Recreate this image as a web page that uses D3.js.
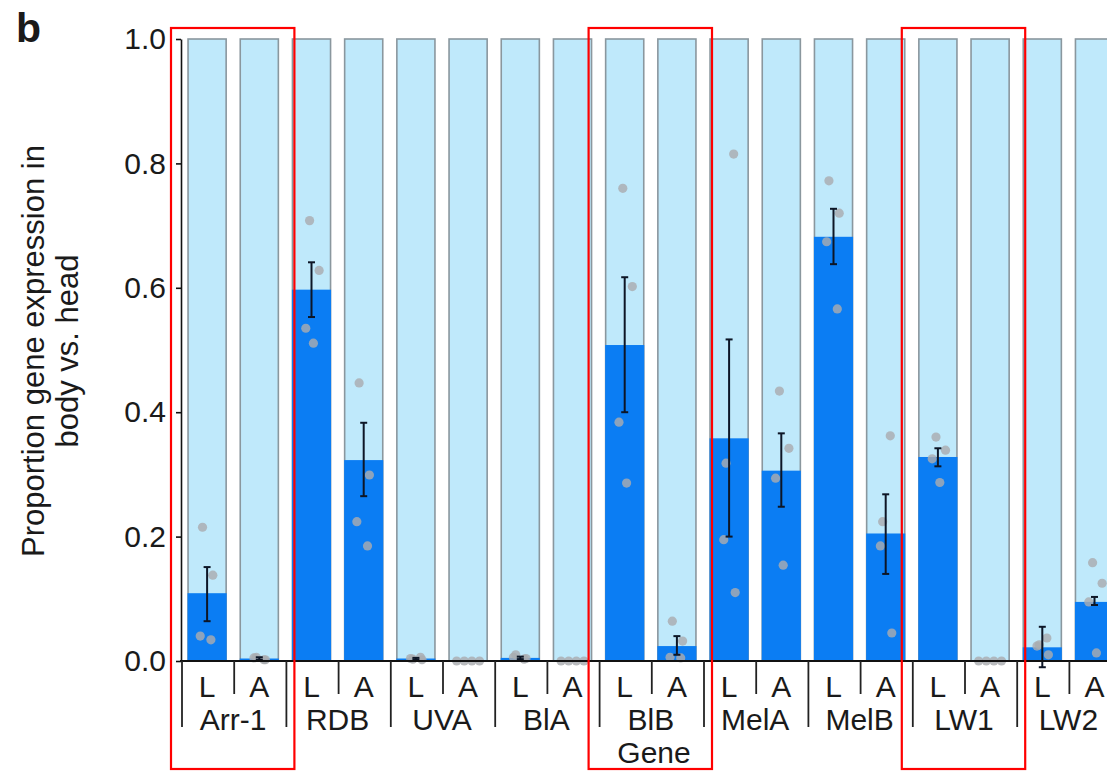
<!DOCTYPE html>
<html>
<head>
<meta charset="utf-8">
<script src="https://cdn.jsdelivr.net/npm/d3@7"></script>
<style>
  html, body { margin: 0; padding: 0; background: #fff; }
  svg { display: block; }
  text { font-family: "Liberation Sans", Arial, Helvetica, sans-serif; fill: #1a1a1a; }
</style>
</head>
<body>
<svg id="chart" width="1107" height="771"></svg>
<script>
// ---------- data ----------
const genes = ["Arr-1", "RDB", "UVA", "BlA", "BlB", "MelA", "MelB", "LW1", "LW2"];
const stages = ["L", "A"];
const highlighted = ["Arr-1", "BlB", "LW1"];
const yTicks = [0.0, 0.2, 0.4, 0.6, 0.8, 1.0];
const yTitle = ["Proportion gene expression in", "body vs. head"];
const xTitle = "Gene";
const panelLabel = "b";

// mean proportion in body (order: gene x stage, L then A)
const means = [0.109, 0.004, 0.597, 0.323, 0.004, 0.000, 0.005, 0.000, 0.508, 0.024,
               0.358, 0.306, 0.682, 0.205, 0.328, 0.000, 0.022, 0.095];
const errLow = [0.064, 0.002, 0.553, 0.265, 0.002, 0.000, 0.003, 0.000, 0.400, 0.010,
                0.200, 0.248, 0.638, 0.140, 0.313, 0.000, -0.010, 0.090];
const errHigh = [0.151, 0.006, 0.641, 0.383, 0.005, 0.000, 0.007, 0.000, 0.617, 0.040,
                 0.517, 0.366, 0.727, 0.268, 0.342, 0.000, 0.055, 0.103];
const replicates = [
  [0.215, 0.138, 0.040, 0.034],
  [0.002, 0.006, 0.005, 0.002],
  [0.708, 0.628, 0.535, 0.511],
  [0.447, 0.299, 0.224, 0.185],
  [0.006, 0.003, 0.004, 0.002],
  [0.000, 0.000, 0.000, 0.000],
  [0.010, 0.004, 0.006, 0.003],
  [0.000, 0.000, 0.000, 0.000],
  [0.760, 0.602, 0.384, 0.286],
  [0.064, 0.032, 0.006, 0.005],
  [0.815, 0.318, 0.195, 0.110],
  [0.434, 0.342, 0.294, 0.154],
  [0.772, 0.720, 0.674, 0.566],
  [0.362, 0.224, 0.185, 0.045],
  [0.360, 0.339, 0.325, 0.287],
  [0.000, 0.000, 0.000, 0.000],
  [0.037, 0.026, 0.024, 0.010],
  [0.158, 0.125, 0.095, 0.013]
];

// ---------- build rows ----------
const rows = [];
genes.forEach((g, gi) => stages.forEach((s, si) => {
  const i = gi * 2 + si;
  rows.push({ id: g + "_" + s, gene: g, stage: s, mean: means[i], lo: errLow[i], hi: errHigh[i], reps: replicates[i] });
}));

// ---------- layout ----------
const svg = d3.select("#chart");
const x0 = 181, step = 52.2;
const x = d3.scaleBand()
  .domain(rows.map(d => d.id))
  .range([x0, x0 + rows.length * step])
  .paddingInner(0.27)
  .paddingOuter(0.135);
const y = d3.scaleLinear().domain([0, 1]).range([661, 39]);
const gx = d3.scaleBand().domain(genes).range([x0, x0 + rows.length * step]);

const colLight = "#bfe9fb", colDark = "#0b7df3", colEdge = "#8a979e";

// light (full) bars
svg.append("g").selectAll("rect").data(rows).join("rect")
  .attr("x", d => x(d.id)).attr("width", x.bandwidth())
  .attr("y", y(1)).attr("height", y(0) - y(1))
  .attr("fill", colLight).attr("stroke", colEdge).attr("stroke-width", 1.6);

// dark (body) bars
svg.append("g").selectAll("rect").data(rows).join("rect")
  .attr("x", d => x(d.id) - 0.5).attr("width", x.bandwidth() + 1)
  .attr("y", d => y(d.mean)).attr("height", d => y(0) - y(d.mean))
  .attr("fill", colDark);

// replicate points
const jitter = [[-0.12, 0.15, -0.18, 0.1], [0.12, -0.08, -0.14, 0.16], [-0.05, 0.2, -0.15, 0.05]];
const pts = [];
rows.forEach((d, i) => d.reps.forEach((v, k) => {
  let off = jitter[i % 3][k];
  if (v === 0) off = -0.3 + k * 0.2;
  pts.push({ id: d.id, v, off });
}));
svg.append("g").selectAll("circle").data(pts).join("circle")
  .attr("cx", d => x(d.id) + x.bandwidth() * (0.5 + d.off))
  .attr("cy", d => y(d.v))
  .attr("r", 4.6)
  .attr("fill", "#a9acb0").attr("fill-opacity", 0.82);

// error bars
const eb = svg.append("g").attr("stroke", "#0d1626").attr("stroke-width", 2);
rows.filter(d => d.hi > d.lo).forEach(d => {
  const cx = x(d.id) + x.bandwidth() / 2;
  eb.append("line").attr("x1", cx).attr("x2", cx).attr("y1", y(d.lo)).attr("y2", y(d.hi));
  eb.append("line").attr("x1", cx - 3.5).attr("x2", cx + 3.5).attr("y1", y(d.lo)).attr("y2", y(d.lo));
  eb.append("line").attr("x1", cx - 3.5).attr("x2", cx + 3.5).attr("y1", y(d.hi)).attr("y2", y(d.hi));
});

// y axis
const yAxis = svg.append("g").attr("transform", `translate(${x0},0)`)
  .call(d3.axisLeft(y).tickValues(yTicks).tickFormat(d3.format(".1f")).tickSize(5).tickPadding(10).tickSizeOuter(0));
yAxis.select(".domain").attr("stroke", "#111").attr("stroke-width", 1.6);
yAxis.selectAll(".tick line").attr("stroke", "#111").attr("stroke-width", 1.6);
yAxis.selectAll(".tick text").attr("font-size", 30).attr("font-family", "Liberation Sans, Arial, sans-serif").attr("fill", "#1a1a1a");

// x baseline
svg.append("line").attr("x1", x0 - 1).attr("x2", 1107).attr("y1", y(0)).attr("y2", y(0))
  .attr("stroke", "#111").attr("stroke-width", 2.2);

// separators
const sep = svg.append("g").attr("stroke", "#222").attr("stroke-width", 1.8);
genes.forEach(g => {
  const gl = gx(g);
  sep.append("line").attr("x1", gl + 1).attr("x2", gl + 1).attr("y1", y(0)).attr("y2", 727);
  sep.append("line").attr("x1", gl + step + 1).attr("x2", gl + step + 1).attr("y1", y(0)).attr("y2", 694);
});
sep.append("line").attr("x1", x0 + genes.length * 2 * step + 1).attr("x2", x0 + genes.length * 2 * step + 1).attr("y1", y(0)).attr("y2", 727);

// stage labels
svg.append("g").selectAll("text").data(rows).join("text")
  .attr("x", d => x(d.id) + x.bandwidth() / 2).attr("y", 697)
  .attr("text-anchor", "middle").attr("font-size", 30).text(d => d.stage);

// gene labels
svg.append("g").selectAll("text").data(genes).join("text")
  .attr("x", g => gx(g) + gx.bandwidth() / 2).attr("y", 730)
  .attr("text-anchor", "middle").attr("font-size", 30).text(g => g);

// x title
svg.append("text").attr("x", 654).attr("y", 763).attr("text-anchor", "middle")
  .attr("font-size", 30).text(xTitle);

// y title
const yt = svg.append("text").attr("transform", "translate(0,351) rotate(-90)")
  .attr("text-anchor", "middle").attr("font-size", 31);
yt.append("tspan").attr("x", 0).attr("y", 44).text(yTitle[0]);
yt.append("tspan").attr("x", 0).attr("y", 78).text(yTitle[1]);

// panel label
svg.append("text").attr("x", 16).attr("y", 42).attr("font-size", 41).attr("font-weight", "bold")
  .attr("fill", "#111").text(panelLabel);

// highlight boxes
svg.append("g").selectAll("rect").data(highlighted).join("rect")
  .attr("x", g => gx(g) - 10).attr("width", gx.bandwidth() + 19)
  .attr("y", 28).attr("height", 741)
  .attr("fill", "none").attr("stroke", "#ff0000").attr("stroke-width", 2.2);
</script>
</body>
</html>
